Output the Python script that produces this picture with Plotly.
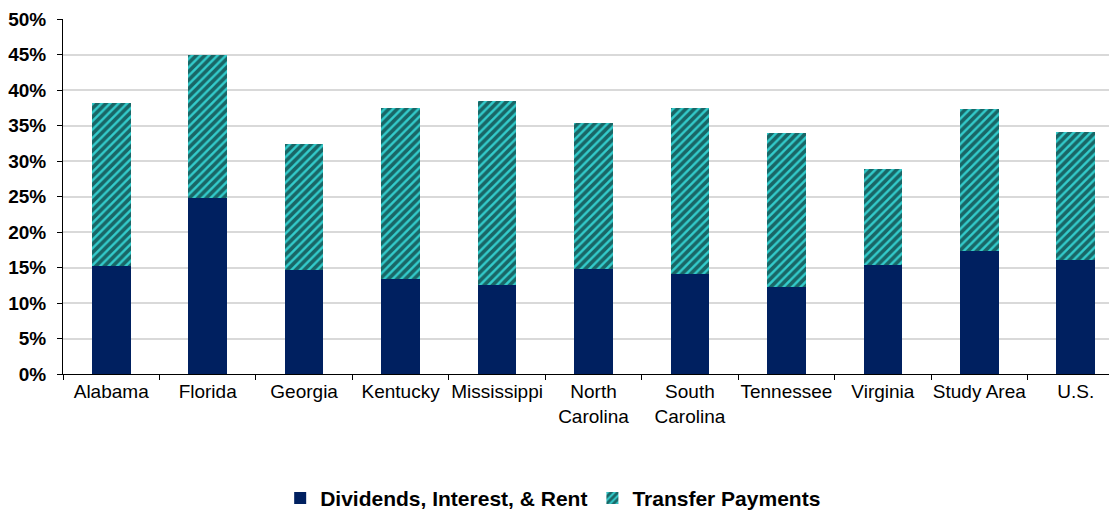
import plotly.graph_objects as go

categories = ["Alabama", "Florida", "Georgia", "Kentucky", "Mississippi",
              "North<br>Carolina", "South<br>Carolina", "Tennessee", "Virginia",
              "Study Area", "U.S."]
dividends = [15.2, 24.8, 14.7, 13.4, 12.5, 14.8, 14.1, 12.2, 15.4, 17.3, 16.1]
totals = [38.1, 45.0, 32.4, 37.5, 38.5, 35.3, 37.4, 33.9, 28.9, 37.3, 34.1]
transfers = [round(t - d, 1) for t, d in zip(totals, dividends)]
tick_vals = [0, 5, 10, 15, 20, 25, 30, 35, 40, 45, 50]
tick_text = [f"{v}%" for v in tick_vals]

fig = go.Figure()
fig.add_trace(go.Bar(
    x=categories, y=dividends, name="Dividends, Interest, & Rent",
    marker=dict(color="#002060", line=dict(width=0)),
))
fig.add_trace(go.Bar(
    x=categories, y=transfers, name="Transfer Payments",
    marker=dict(color="#33CCCC", line=dict(width=0),
                pattern=dict(shape="/", fgcolor="#000000", bgcolor="#33CCCC",
                             size=6, solidity=0.6, fillmode="overlay")),
))

fig.update_layout(
    barmode="stack",
    bargap=0.6,
    width=1117, height=516,
    margin=dict(l=55, r=1, t=11, b=150, autoexpand=False),
    plot_bgcolor="white", paper_bgcolor="white",
    font=dict(family="Arial, Liberation Sans, sans-serif", size=19, color="#000000"),
    legend=dict(orientation="h", x=0.462, xanchor="center", y=-0.35, yanchor="middle",
                font=dict(size=21, family="Arial, Liberation Sans, sans-serif", weight="bold"),
                traceorder="normal", itemwidth=30),
    xaxis=dict(showline=True, linecolor="#000000", linewidth=1, ticks="outside",
               tickson="boundaries", ticklen=5, tickcolor="#000000", tickangle=0,
               tickfont=dict(size=19), showgrid=False),
    yaxis=dict(range=[0, 50], tickvals=tick_vals, ticktext=tick_text,
               showline=True, linecolor="#000000", linewidth=1, ticks="outside",
               ticklen=5, tickcolor="#000000", gridcolor="#D9D9D9", gridwidth=1.5,
               tickfont=dict(size=19, weight="bold"), zeroline=False,
               ticklabelstandoff=7, ticklabeloverflow="allow"),
)

fig.write_html("out.html")
